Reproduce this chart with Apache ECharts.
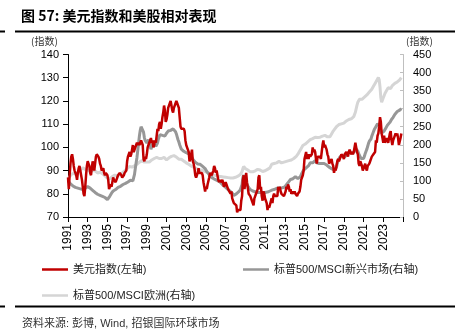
<!DOCTYPE html>
<html>
<head>
<meta charset="utf-8">
<script src="https://cdn.jsdelivr.net/npm/echarts@6/dist/echarts.min.js"></script>
<style>
  html, body { margin: 0; padding: 0; background: #fff; }
  #chart { width: 455px; height: 334px; }
</style>
</head>
<body>
<div id="chart"></div>
<script>
// Monthly observations, starting January 1991
const START_YEAR = 1991;

// 美元指数 (left axis)
const dollarIndex = [
  87, 82, 88, 93, 96, 97, 95, 92, 90, 89, 88, 86,          // 1991
  89, 91, 92, 90, 88, 86, 83, 80, 79, 83, 88, 92,          // 1992
  94, 93, 92, 89, 88, 91, 94, 92, 90, 93, 96, 97,          // 1993
  97, 96, 95, 93, 92, 90, 90, 91, 89, 88, 89, 89,          // 1994
  88, 86, 82, 82, 84, 83, 85, 87, 86, 86, 85, 86,          // 1995
  87, 88, 88, 89, 89, 88, 87, 87, 88, 89, 89, 90,          // 1996
  94, 96, 96, 98, 96, 97, 99, 101, 98, 98, 100, 101,       // 1997
  102, 101, 102, 101, 102, 103, 102, 101, 95, 94, 96, 95,  // 1998
  97, 100, 101, 102, 103, 104, 102, 103, 100, 101, 103, 102, // 1999
  105, 108, 107, 110, 111, 108, 110, 113, 115, 118, 116, 111, // 2000
  112, 114, 117, 117, 119, 120, 118, 116, 115, 117, 118, 119, // 2001
  120, 119, 119, 117, 113, 109, 108, 108, 108, 108, 107, 103, // 2002
  101, 100, 100, 98, 94, 95, 97, 99, 94, 93, 91, 88,       // 2003
  87, 88, 89, 91, 89, 89, 89, 89, 88, 85, 83, 81,          // 2004
  83, 82, 84, 84, 87, 89, 89, 88, 89, 90, 92, 91,          // 2005
  89, 90, 90, 86, 85, 86, 85, 85, 86, 86, 83, 84,          // 2006
  85, 84, 83, 82, 82, 82, 80, 81, 78, 77, 76, 76,          // 2007
  76, 75, 72, 73, 73, 73, 73, 77, 79, 86, 88, 82,          // 2008
  86, 89, 85, 85, 80, 80, 79, 78, 77, 76, 75, 78,          // 2009
  79, 80, 81, 82, 87, 88, 82, 83, 79, 77, 81, 80,          // 2010
  78, 77, 76, 73, 75, 74, 74, 74, 78, 76, 79, 80,          // 2011
  79, 79, 79, 79, 83, 82, 83, 81, 80, 80, 80, 79,          // 2012
  79, 81, 83, 82, 84, 83, 81, 82, 80, 80, 81, 80,          // 2013
  81, 80, 80, 79, 80, 80, 81, 83, 86, 87, 88, 90,          // 2014
  95, 95, 98, 95, 97, 95, 97, 96, 96, 97, 100, 98,         // 2015
  99, 98, 95, 93, 96, 96, 96, 96, 95, 98, 101, 103,        // 2016
  100, 101, 100, 99, 97, 96, 93, 93, 93, 95, 93, 92,       // 2017
  89, 91, 90, 92, 94, 95, 94, 95, 95, 97, 97, 96,          // 2018
  95, 97, 97, 98, 98, 96, 98, 99, 99, 97, 98, 97,          // 2019
  98, 98, 102, 100, 98, 97, 93, 92, 94, 94, 92, 90,        // 2020
  91, 91, 93, 91, 90, 92, 92, 93, 94, 94, 96, 96,          // 2021
  97, 97, 98, 103, 102, 105, 106, 109, 113, 111, 106, 104, // 2022
  102, 105, 102, 102, 104, 103, 102, 104, 106, 107, 103, 101, // 2023
  103, 104, 104, 106, 105, 106, 104, 101, 101, 104, 106    // 2024
];

// 标普500/MSCI新兴市场 (right axis)
const spxToEm = [
  100, 97, 95, 92, 90, 88, 86, 84, 83, 82, 81, 80,         // 1991
  80, 79, 78, 78, 77, 76, 76, 77, 78, 80, 82, 83,          // 1992
  84, 83, 82, 80, 78, 76, 74, 72, 70, 68, 66, 64,          // 1993
  63, 64, 62, 60, 60, 58, 57, 56, 55, 54, 52, 50,          // 1994
  48, 47, 52, 58, 62, 66, 70, 72, 74, 76, 76, 78,          // 1995
  80, 82, 84, 86, 85, 86, 88, 90, 90, 92, 93, 95,          // 1996
  96, 97, 98, 100, 102, 101, 99, 100, 104, 118, 135, 150,  // 1997
  165, 185, 205, 225, 240, 250, 255, 250, 235, 220, 212, 208, // 1998
  205, 210, 214, 205, 195, 188, 192, 200, 210, 214, 205, 196, // 1999
  195, 205, 215, 222, 228, 232, 230, 226, 224, 222, 224, 228, // 2000
  232, 236, 238, 240, 242, 240, 241, 238, 244, 246, 242, 236, // 2001
  230, 222, 214, 208, 200, 194, 188, 186, 184, 182, 180, 179, // 2002
  178, 176, 178, 175, 172, 170, 168, 165, 160, 158, 155, 152, // 2003
  150, 148, 147, 145, 148, 146, 144, 142, 140, 138, 136, 134, // 2004
  130, 126, 124, 120, 118, 114, 112, 110, 108, 106, 105, 104, // 2005
  103, 102, 101, 100, 99, 97, 95, 93, 90, 88, 86, 84,      // 2006
  82, 80, 78, 76, 74, 72, 70, 68, 66, 62, 60, 60,          // 2007
  62, 64, 66, 68, 70, 72, 76, 80, 90, 110, 116, 106,       // 2008
  98, 94, 90, 86, 82, 78, 76, 74, 72, 72, 71, 70,          // 2009
  70, 70, 69, 68, 68, 69, 68, 67, 67, 68, 68, 69,          // 2010
  68, 67, 68, 69, 70, 71, 72, 74, 76, 75, 76, 76,          // 2011
  77, 78, 78, 80, 82, 82, 80, 80, 80, 81, 82, 82,          // 2012
  83, 85, 88, 92, 94, 98, 100, 104, 106, 104, 106, 108,    // 2013
  110, 112, 110, 108, 106, 106, 108, 112, 116, 122, 126, 130, // 2014
  132, 134, 136, 138, 140, 142, 146, 150, 152, 150, 150, 152, // 2015
  154, 156, 152, 150, 150, 150, 148, 146, 146, 148, 152, 150, // 2016
  148, 146, 145, 144, 142, 140, 138, 136, 134, 134, 132, 130, // 2017
  130, 132, 134, 138, 148, 156, 160, 166, 168, 170, 170, 168, // 2018
  166, 166, 168, 170, 175, 172, 176, 180, 180, 178, 176, 178, // 2019
  180, 182, 186, 188, 186, 182, 176, 170, 166, 162, 160, 158, // 2020
  162, 168, 176, 182, 188, 196, 204, 210, 212, 216, 224, 230, // 2021
  236, 242, 246, 250, 254, 258, 260, 256, 250, 240, 232, 230, // 2022
  232, 238, 242, 246, 250, 254, 256, 258, 262, 266, 270, 274, // 2023
  276, 280, 284, 286, 288, 292, 292, 294, 296, 298, 300    // 2024
];

// 标普500/MSCI欧洲 (right axis)
const spxToEurope = [
  106, 108, 112, 116, 118, 120, 122, 121, 119, 118, 117, 120, // 1991
  124, 126, 128, 130, 132, 134, 136, 135, 133, 132, 131, 130, // 1992
  130, 131, 130, 128, 127, 128, 129, 130, 129, 128, 126, 124, // 1993
  122, 122, 123, 124, 122, 121, 120, 118, 116, 114, 112, 111, // 1994
  108, 106, 104, 106, 108, 110, 112, 114, 115, 116, 115, 114, // 1995
  114, 115, 116, 118, 118, 120, 122, 124, 126, 128, 130, 132, // 1996
  134, 136, 138, 140, 142, 140, 138, 138, 140, 142, 144, 145, // 1997
  146, 148, 150, 152, 154, 155, 156, 156, 154, 152, 150, 152, // 1998
  152, 151, 150, 152, 154, 156, 158, 158, 160, 162, 163, 164, // 1999
  165, 166, 164, 162, 160, 160, 162, 164, 166, 165, 163, 160, // 2000
  158, 160, 162, 164, 165, 166, 168, 170, 172, 170, 168, 166, // 2001
  166, 164, 162, 160, 160, 161, 160, 158, 156, 155, 154, 152, // 2002
  150, 150, 148, 146, 144, 142, 141, 140, 139, 138, 137, 136, // 2003
  135, 134, 133, 132, 132, 131, 130, 130, 129, 128, 127, 126, // 2004
  125, 124, 123, 122, 121, 120, 119, 118, 117, 116, 116, 115, // 2005
  115, 114, 114, 113, 113, 112, 112, 111, 111, 111, 110, 110, // 2006
  110, 110, 109, 109, 108, 108, 108, 108, 108, 108, 109, 110, // 2007
  110, 111, 112, 113, 114, 116, 118, 120, 126, 134, 140, 138, // 2008
  134, 130, 132, 130, 128, 126, 125, 124, 124, 125, 126, 127, // 2009
  128, 130, 130, 132, 136, 134, 130, 130, 128, 126, 126, 128, // 2010
  128, 128, 130, 132, 132, 134, 136, 140, 146, 144, 146, 148, // 2011
  148, 148, 150, 152, 154, 154, 154, 152, 150, 150, 151, 152, // 2012
  152, 153, 154, 155, 156, 156, 157, 158, 158, 158, 160, 162, // 2013
  164, 166, 168, 170, 174, 178, 182, 186, 190, 194, 198, 200, // 2014
  200, 202, 204, 206, 208, 210, 212, 214, 215, 216, 217, 218, // 2015
  220, 221, 220, 219, 220, 222, 222, 221, 221, 222, 224, 226, // 2016
  226, 226, 225, 224, 222, 220, 220, 222, 226, 230, 234, 238, // 2017
  240, 244, 246, 250, 252, 254, 256, 258, 260, 258, 256, 258, // 2018
  260, 262, 264, 266, 266, 268, 270, 270, 272, 272, 274, 276, // 2019
  278, 282, 290, 300, 310, 318, 322, 326, 326, 324, 326, 328, // 2020
  330, 332, 334, 336, 338, 340, 342, 346, 348, 350, 354, 358, // 2021
  362, 366, 370, 374, 378, 382, 386, 380, 360, 330, 318, 322, // 2022
  330, 336, 342, 346, 350, 354, 358, 360, 358, 356, 360, 364, // 2023
  366, 368, 370, 370, 372, 374, 376, 378, 380, 384, 386    // 2024
];

const seriesNames = ['美元指数(左轴)', '标普500/MSCI新兴市场(右轴)', '标普500/MSCI欧洲(右轴)'];
const seriesColors = ['#c00000', '#979797', '#d5d5d5'];

const FONT = '"Liberation Sans", "Noto Sans CJK SC", sans-serif';
const CJK = '"Noto Sans CJK SC", "Liberation Sans", sans-serif';

// pair each monthly value with its decimal-year date
const withDates = arr => arr.map((v, i) => [START_YEAR + i / 12, v]);

const chart = echarts.init(document.getElementById('chart'), null, { renderer: 'canvas' });

// legend swatches are short flat bars, like plain line samples
const legendBase = {
  icon: 'rect',
  itemWidth: 26,
  itemHeight: 2.5,
  itemGap: 0,
  padding: 0,
  textStyle: { fontFamily: FONT, fontSize: 11, color: '#222', padding: [0, 0, 0, 0] },
  selectedMode: false
};

chart.setOption({
  animation: false,
  backgroundColor: '#fff',
  grid: { left: 68, right: 52, top: 54.5, bottom: 117, containLabel: false },
  xAxis: {
    type: 'value',
    min: 1991,
    max: 2025,
    interval: 2,
    axisLine: { lineStyle: { color: '#000', width: 1 } },
    axisTick: { show: true, length: 5, lineStyle: { color: '#000' } },
    axisLabel: {
      rotate: 90,
      margin: 7,
      fontFamily: FONT,
      fontSize: 12,
      color: '#000',
      formatter: v => (v > 2024 ? '' : String(v))
    },
    splitLine: { show: false }
  },
  yAxis: [
    {
      type: 'value',
      min: 70,
      max: 140,
      interval: 10,
      position: 'left',
      axisLine: { show: true, lineStyle: { color: '#000', width: 1 } },
      axisTick: { show: true, length: 5, lineStyle: { color: '#000' } },
      axisLabel: { margin: 9, fontFamily: FONT, fontSize: 11, color: '#000' },
      splitLine: { show: false }
    },
    {
      type: 'value',
      min: 0,
      max: 450,
      interval: 50,
      position: 'right',
      axisLine: { show: true, lineStyle: { color: '#bfbfbf', width: 1 } },
      axisTick: { show: true, length: 3, inside: true, lineStyle: { color: '#bfbfbf' } },
      axisLabel: { margin: 10, fontFamily: FONT, fontSize: 11, color: '#000' },
      splitLine: { show: false }
    }
  ],
  legend: [
    Object.assign({ left: 42, top: 264, data: [seriesNames[0]] }, legendBase),
    Object.assign({ left: 243, top: 264, data: [seriesNames[1]] }, legendBase),
    Object.assign({ left: 42, top: 290, data: [seriesNames[2]] }, legendBase)
  ],
  series: [
    {
      name: seriesNames[0],
      type: 'line',
      yAxisIndex: 0,
      z: 4,
      showSymbol: false,
      symbol: 'none',
      data: withDates(dollarIndex),
      lineStyle: { color: seriesColors[0], width: 2.5 },
      itemStyle: { color: seriesColors[0] }
    },
    {
      name: seriesNames[1],
      type: 'line',
      yAxisIndex: 1,
      z: 3,
      showSymbol: false,
      symbol: 'none',
      data: withDates(spxToEm),
      lineStyle: { color: seriesColors[1], width: 3 },
      itemStyle: { color: seriesColors[1] }
    },
    {
      name: seriesNames[2],
      type: 'line',
      yAxisIndex: 1,
      z: 2,
      showSymbol: false,
      symbol: 'none',
      data: withDates(spxToEurope),
      lineStyle: { color: seriesColors[2], width: 3 },
      itemStyle: { color: seriesColors[2] }
    }
  ],
  graphic: [
    {
      type: 'text', left: 21, top: 9,
      style: { text: '图 57: 美元指数和美股相对表现', font: 'bold 14px ' + CJK, fill: '#000' }
    },
    { type: 'rect', shape: { x: 15, y: 30.5, width: 440, height: 2 }, style: { fill: '#000' } },
    { type: 'rect', shape: { x: 0, y: 30.5, width: 5, height: 2 }, style: { fill: '#000' } },
    {
      type: 'text', left: 31, top: 36,
      style: { text: '(指数)', font: '10px ' + CJK, fill: '#333' }
    },
    {
      type: 'text', left: 406, top: 36,
      style: { text: '(指数)', font: '10px ' + CJK, fill: '#333' }
    },
    { type: 'rect', shape: { x: 15, y: 305.5, width: 440, height: 2 }, style: { fill: '#000' } },
    { type: 'rect', shape: { x: 0, y: 305.5, width: 5, height: 2 }, style: { fill: '#000' } },
    {
      type: 'text', left: 22, top: 318,
      style: { text: '资料来源: 彭博, Wind, 招银国际环球市场', font: '11px ' + FONT, fill: '#333' }
    }
  ]
});
</script>
</body>
</html>
